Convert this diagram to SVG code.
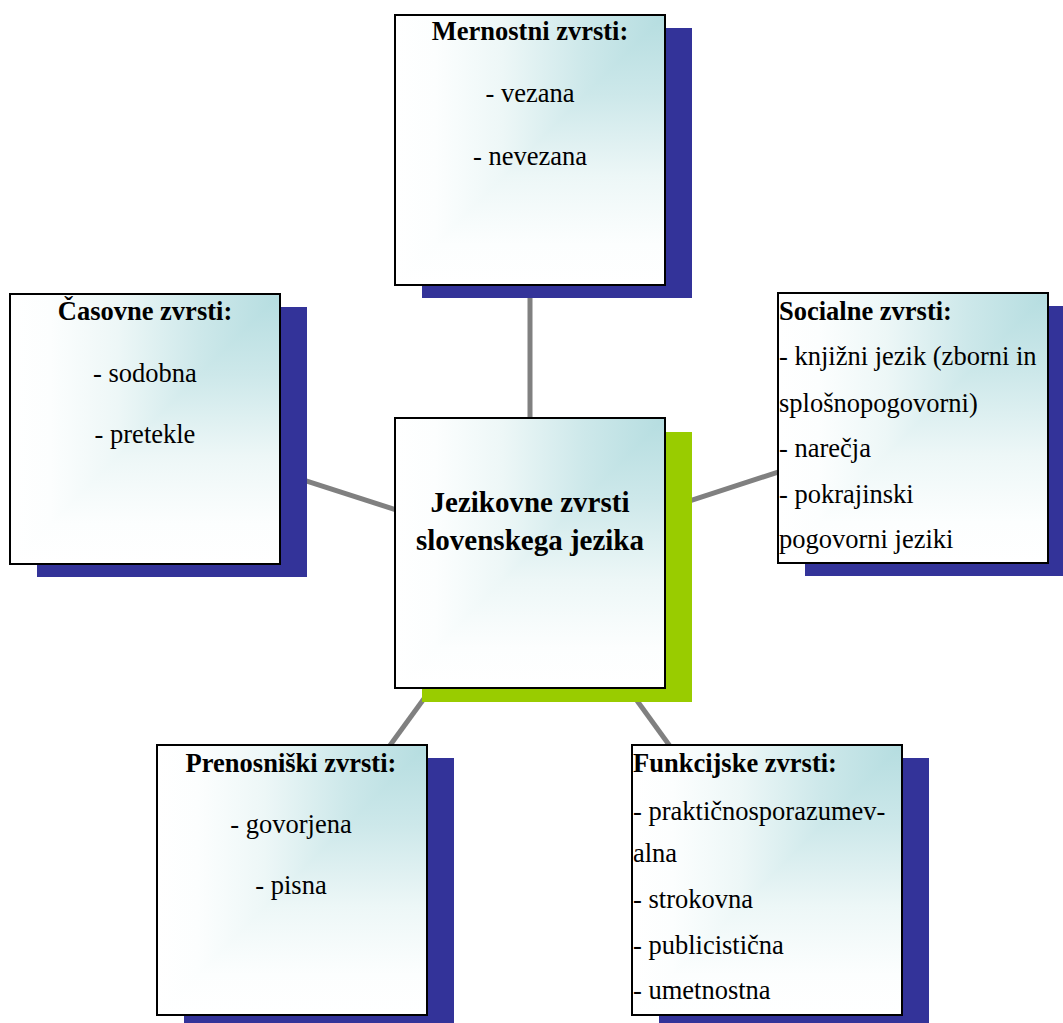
<svg xmlns="http://www.w3.org/2000/svg" xmlns:xlink="http://www.w3.org/1999/xlink" width="1063" height="1023" viewBox="0 0 1063 1023">
<style>
.shadow{fill:#333399}
.shadow-c{fill:#99cc00}
.border{fill:none;stroke:#000;stroke-width:2}
.conn{stroke:#808080;stroke-width:5;fill:none}
text{font-family:"Liberation Serif","Times New Roman",serif;fill:#000;font-size:26.5px}
.t{font-weight:bold}
.c{text-anchor:middle}
.big{font-size:29px;font-weight:bold;text-anchor:middle}
</style>
<defs>
<linearGradient id="gh" x1="1" y1="0" x2="0" y2="0">
<stop offset="0" stop-color="#b5dde0"/>
<stop offset="0.3" stop-color="#cde8ea"/>
<stop offset="0.6" stop-color="#edf7f7"/>
<stop offset="0.85" stop-color="#fcfefe"/>
<stop offset="1" stop-color="#ffffff"/>
</linearGradient>
<linearGradient id="gv" x1="0" y1="0" x2="0" y2="1">
<stop offset="0" stop-color="#b5dde0"/>
<stop offset="0.3" stop-color="#cde8ea"/>
<stop offset="0.6" stop-color="#edf7f7"/>
<stop offset="0.85" stop-color="#fcfefe"/>
<stop offset="1" stop-color="#ffffff"/>
</linearGradient>
<g id="face">
<rect x="0" y="0" width="270" height="270" fill="url(#gh)"/>
<polygon points="270,0 270,270 0,270" fill="url(#gv)"/>
<rect class="border" x="0" y="0" width="270" height="270"/>
</g>
</defs>
<rect width="1063" height="1023" fill="#fff"/>
<g id="connectors">
<line class="conn" x1="530" y1="553" x2="530" y2="150"/>
<line class="conn" x1="530" y1="553" x2="145" y2="429"/>
<line class="conn" x1="530" y1="553" x2="913" y2="428"/>
<line class="conn" x1="530" y1="553" x2="292" y2="880"/>
<line class="conn" x1="530" y1="553" x2="767" y2="880"/>
</g>
<g id="node-mernostni" transform="translate(395,15)">
<rect class="shadow" x="27" y="13" width="270" height="270"/>
<use xlink:href="#face"/>
<text class="t c" x="135" y="25">Mernostni zvrsti:</text>
<text class="c" x="135" y="87">- vezana</text>
<text class="c" x="135" y="150">- nevezana</text>
</g>
<g id="node-casovne" transform="translate(10,294)">
<rect class="shadow" x="27" y="13" width="270" height="270"/>
<use xlink:href="#face"/>
<text class="t c" x="135" y="26">Časovne zvrsti:</text>
<text class="c" x="135" y="88">- sodobna</text>
<text class="c" x="135" y="149">- pretekle</text>
</g>
<g id="node-socialne" transform="translate(778,293)">
<rect class="shadow" x="27" y="13" width="270" height="270"/>
<use xlink:href="#face"/>
<text class="t" x="1" y="27">Socialne zvrsti:</text>
<text x="1" y="72">- knjižni jezik (zborni in</text>
<text x="1" y="119">splošnopogovorni)</text>
<text x="1" y="164">- narečja</text>
<text x="1" y="210">- pokrajinski</text>
<text x="1" y="255">pogovorni jeziki</text>
</g>
<g id="node-center" transform="translate(395,418)">
<rect class="shadow-c" x="27" y="14" width="270" height="270"/>
<use xlink:href="#face"/>
<text class="big" x="135" y="94">Jezikovne zvrsti</text>
<text class="big" x="135" y="132">slovenskega jezika</text>
</g>
<g id="node-prenosniski" transform="translate(157,745)">
<rect class="shadow" x="27" y="13" width="270" height="270"/>
<use xlink:href="#face"/>
<text class="t c" x="134" y="27">Prenosniški zvrsti:</text>
<text class="c" x="134" y="88">- govorjena</text>
<text class="c" x="134" y="149">- pisna</text>
</g>
<g id="node-funkcijske" transform="translate(632,745)">
<rect class="shadow" x="27" y="13" width="270" height="270"/>
<use xlink:href="#face"/>
<text class="t" x="1" y="27">Funkcijske zvrsti:</text>
<text x="1" y="75">- praktičnosporazumev-</text>
<text x="1" y="117">alna</text>
<text x="1" y="163">- strokovna</text>
<text x="1" y="209">- publicistična</text>
<text x="1" y="254">- umetnostna</text>
</g>
</svg>
